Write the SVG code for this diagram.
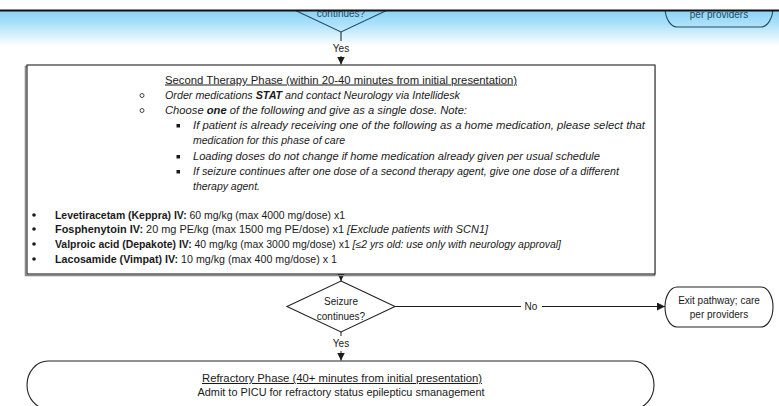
<svg xmlns="http://www.w3.org/2000/svg" width="779" height="406" viewBox="0 0 779 406">
  <defs>
    <linearGradient id="bandFade" x1="0" y1="0" x2="0" y2="1">
      <stop offset="0" stop-color="#8dd3f6"/>
      <stop offset="0.35" stop-color="#a9e0fa"/>
      <stop offset="0.7" stop-color="#d8f1fd"/>
      <stop offset="1" stop-color="#ffffff"/>
    </linearGradient>
    <marker id="arrow" viewBox="0 0 8 8" refX="8" refY="4" markerWidth="8" markerHeight="8" markerUnits="userSpaceOnUse" orient="auto">
      <path d="M0,0 L8,4 L0,8 Z" fill="#1a1a1a"/>
    </marker>
  </defs>
  <style>
    .t { font-family: "Liberation Sans", Arial, sans-serif; font-size: 10px; fill: #1a1a1a; }
    .b { font-weight: bold; }
    .i { font-style: italic; }
    .u { text-decoration: underline; }
    .edge { fill: none; stroke: #1a1a1a; stroke-width: 1; }
    .shape { fill: #ffffff; stroke: #222222; stroke-width: 1.1; }
    .faded { fill: none; stroke: #234a63; stroke-width: 1.1; }
    .ft { font-family: "Liberation Sans", Arial, sans-serif; font-size: 10px; fill: #234a63; }
    .dot { fill: #1a1a1a; }
    .ring { fill: none; stroke: #1a1a1a; stroke-width: 0.8; }
  </style>

  <rect width="779" height="406" fill="#ffffff"/>

  <!-- header band with the tail of the previous step -->
  <rect x="0" y="11" width="779" height="35" fill="url(#bandFade)"/>
  <g id="node-prev-decision">
    <polygon class="faded" points="341,-19 395,6.5 341,32 287,6.5"/>
    <text class="ft" x="341" y="17" text-anchor="middle">continues?</text>
  </g>
  <g id="node-prev-exit">
    <rect class="faded" x="665" y="-13" width="108" height="40" rx="12" ry="20"/>
    <text class="ft" x="719" y="18" text-anchor="middle">per providers</text>
  </g>
  <rect x="0" y="0" width="779" height="10" fill="#ffffff"/>
  <line x1="0" y1="10.5" x2="779" y2="10.5" stroke="#111111" stroke-width="2"/>

  <!-- connectors -->
  <g id="connectors">
    <line class="edge" x1="341" y1="32" x2="341" y2="41"/>
    <text class="t" x="341" y="52" text-anchor="middle">Yes</text>
    <line class="edge" x1="341" y1="56" x2="341" y2="64.5" marker-end="url(#arrow)"/>

    <line class="edge" x1="341" y1="274" x2="341" y2="281" marker-end="url(#arrow)"/>

    <line class="edge" x1="341" y1="332" x2="341" y2="336"/>
    <text class="t" x="341" y="347" text-anchor="middle">Yes</text>
    <line class="edge" x1="341" y1="351" x2="341" y2="360.5" marker-end="url(#arrow)"/>

    <line class="edge" x1="395" y1="306.5" x2="521" y2="306.5"/>
    <text class="t" x="531" y="310" text-anchor="middle">No</text>
    <line class="edge" x1="542" y1="306.5" x2="665" y2="306.5" marker-end="url(#arrow)"/>
  </g>

  <!-- second therapy phase box -->
  <g id="node-second-therapy">
    <rect x="25.5" y="66.5" width="629" height="209" fill="none" stroke="#8a8a8a" stroke-width="1.6"/>
    <rect class="shape" x="27" y="65" width="628" height="209"/>
    <text class="t u" x="341" y="83.5" text-anchor="middle" textLength="352" lengthAdjust="spacingAndGlyphs">Second Therapy Phase (within 20-40 minutes from initial presentation)</text>

    <circle class="ring" cx="142" cy="95.5" r="2"/>
    <text class="t i" x="165" y="98.5" textLength="295" lengthAdjust="spacingAndGlyphs">Order medications <tspan class="b">STAT</tspan> and contact Neurology via Intellidesk</text>
    <circle class="ring" cx="142" cy="110.5" r="2"/>
    <text class="t i" x="165" y="113.5" textLength="302" lengthAdjust="spacingAndGlyphs">Choose <tspan class="b">one</tspan> of the following and give as a single dose. Note:</text>

    <rect x="176.5" y="124" width="3.5" height="3.5" class="dot"/>
    <text class="t i" x="193" y="128.5" textLength="452" lengthAdjust="spacingAndGlyphs">If patient is already receiving one of the following as a home medication, please select that</text>
    <text class="t i" x="193" y="143.5" textLength="152" lengthAdjust="spacingAndGlyphs">medication for this phase of care</text>
    <rect x="176.5" y="155" width="3.5" height="3.5" class="dot"/>
    <text class="t i" x="193" y="159.5" textLength="407" lengthAdjust="spacingAndGlyphs">Loading doses do not change if home medication already given per usual schedule</text>
    <rect x="176.5" y="170" width="3.5" height="3.5" class="dot"/>
    <text class="t i" x="193" y="174.5" textLength="426" lengthAdjust="spacingAndGlyphs">If seizure continues after one dose of a second therapy agent, give one dose of a different</text>
    <text class="t i" x="193" y="189.5" textLength="67" lengthAdjust="spacingAndGlyphs">therapy agent.</text>

    <circle class="dot" cx="34" cy="215" r="1.8"/>
    <text class="t" x="55" y="218.5" textLength="290" lengthAdjust="spacingAndGlyphs"><tspan class="b">Levetiracetam (Keppra) IV:</tspan> 60 mg/kg (max 4000 mg/dose) x1</text>
    <circle class="dot" cx="34" cy="229" r="1.8"/>
    <text class="t" x="55" y="232.5" textLength="433" lengthAdjust="spacingAndGlyphs"><tspan class="b">Fosphenytoin IV:</tspan> 20 mg PE/kg (max 1500 mg PE/dose) x1  <tspan class="i">[Exclude patients with SCN1]</tspan></text>
    <circle class="dot" cx="34" cy="244" r="1.8"/>
    <text class="t" x="55" y="247.5" textLength="506" lengthAdjust="spacingAndGlyphs"><tspan class="b">Valproic acid (Depakote) IV:</tspan> 40 mg/kg (max 3000 mg/dose) x1  <tspan class="i">[≤2 yrs old: use only with neurology approval]</tspan></text>
    <circle class="dot" cx="34" cy="259" r="1.8"/>
    <text class="t" x="55" y="262.5" textLength="282" lengthAdjust="spacingAndGlyphs"><tspan class="b">Lacosamide (Vimpat) IV:</tspan> 10 mg/kg (max 400 mg/dose) x 1</text>
  </g>

  <!-- decision -->
  <g id="node-decision">
    <polygon class="shape" points="341,281 395,306.5 341,332 287,306.5"/>
    <text class="t" x="341" y="304.5" text-anchor="middle">Seizure</text>
    <text class="t" x="341" y="320" text-anchor="middle">continues?</text>
  </g>

  <!-- exit terminator -->
  <g id="node-exit">
    <rect class="shape" x="665" y="287" width="108" height="40" rx="12" ry="20"/>
    <text class="t" x="719" y="303.5" text-anchor="middle">Exit pathway; care</text>
    <text class="t" x="719" y="318" text-anchor="middle">per providers</text>
  </g>

  <!-- refractory phase terminator -->
  <g id="node-refractory">
    <rect class="shape" x="27" y="361" width="627" height="48" rx="21" ry="24"/>
    <text class="t u" x="342" y="382" text-anchor="middle" textLength="280" lengthAdjust="spacingAndGlyphs">Refractory Phase (40+ minutes from initial presentation)</text>
    <text class="t" x="341" y="396" text-anchor="middle" textLength="287" lengthAdjust="spacingAndGlyphs">Admit to PICU for refractory status epilepticu smanagement</text>
  </g>
</svg>
